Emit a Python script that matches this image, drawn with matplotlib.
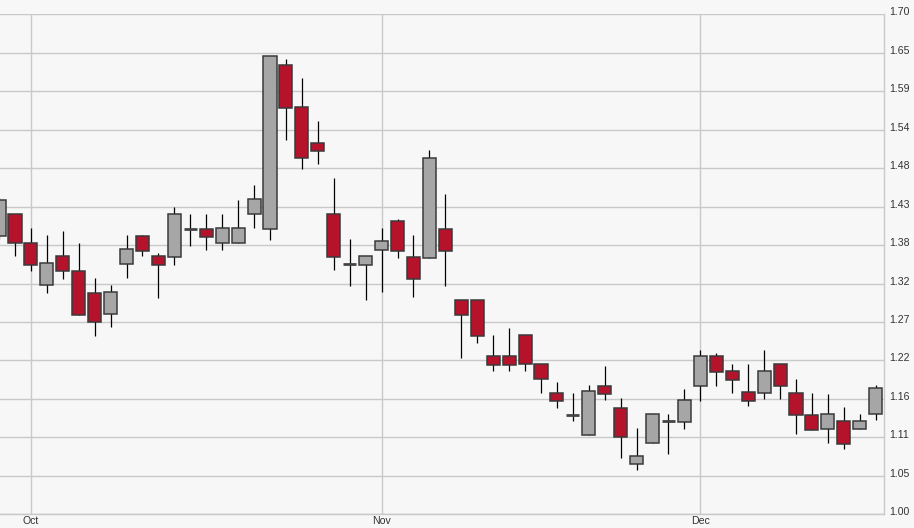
#!/usr/bin/env python3

import matplotlib
matplotlib.use("Agg")
import matplotlib.pyplot as plt
import matplotlib.transforms as mtransforms
import numpy as np


# daily OHLC, one entry per trading session (first two are late September)
OPEN = [
    1.390, 1.421, 1.380, 1.321, 1.361, 1.340, 1.310, 1.280, 1.350, 1.390,
    1.361, 1.360, 1.399, 1.399, 1.380, 1.380, 1.420, 1.399, 1.629, 1.570,
    1.520, 1.421, 1.351, 1.349, 1.370, 1.410, 1.360, 1.359, 1.400, 1.300,
    1.300, 1.221, 1.221, 1.251, 1.211, 1.170, 1.139, 1.111, 1.180, 1.149,
    1.070, 1.100, 1.130, 1.129, 1.180, 1.221, 1.200, 1.171, 1.170, 1.211,
    1.170, 1.139, 1.120, 1.130, 1.120, 1.141,
]
HIGH = [
    1.443, 1.421, 1.401, 1.391, 1.397, 1.380, 1.331, 1.321, 1.391, 1.391,
    1.366, 1.430, 1.420, 1.420, 1.420, 1.440, 1.461, 1.641, 1.638, 1.611,
    1.551, 1.471, 1.385, 1.361, 1.401, 1.414, 1.391, 1.510, 1.449, 1.300,
    1.300, 1.251, 1.261, 1.251, 1.211, 1.185, 1.170, 1.181, 1.208, 1.163,
    1.121, 1.141, 1.140, 1.175, 1.230, 1.226, 1.210, 1.210, 1.230, 1.211,
    1.190, 1.170, 1.168, 1.150, 1.140, 1.181,
]
LOW = [
    1.385, 1.361, 1.341, 1.310, 1.329, 1.279, 1.250, 1.262, 1.331, 1.361,
    1.303, 1.349, 1.375, 1.370, 1.370, 1.380, 1.401, 1.384, 1.524, 1.484,
    1.491, 1.342, 1.320, 1.300, 1.311, 1.359, 1.304, 1.359, 1.320, 1.219,
    1.240, 1.201, 1.201, 1.201, 1.170, 1.149, 1.130, 1.111, 1.160, 1.079,
    1.062, 1.100, 1.085, 1.120, 1.159, 1.180, 1.170, 1.151, 1.161, 1.161,
    1.112, 1.118, 1.100, 1.091, 1.120, 1.132,
]
CLOSE = [
    1.440, 1.380, 1.349, 1.352, 1.340, 1.279, 1.269, 1.311, 1.372, 1.369,
    1.349, 1.421, 1.399, 1.388, 1.401, 1.401, 1.442, 1.641, 1.569, 1.499,
    1.509, 1.360, 1.351, 1.361, 1.382, 1.369, 1.329, 1.499, 1.369, 1.279,
    1.250, 1.209, 1.209, 1.211, 1.189, 1.159, 1.139, 1.172, 1.168, 1.108,
    1.082, 1.141, 1.130, 1.160, 1.221, 1.199, 1.188, 1.159, 1.201, 1.180,
    1.139, 1.118, 1.141, 1.099, 1.131, 1.177,
]

MONTH_LABELS = ["Oct", "Nov", "Dec"]
MONTH_FIRST_SESSION = [2, 24, 44]  # position in the lists above

Y_TICKS = [1.00, 1.0538, 1.1077, 1.1615, 1.2154, 1.2692, 1.3231,
           1.3769, 1.4308, 1.4846, 1.5385, 1.5923, 1.6462, 1.70]
Y_TICK_LABELS = ["1.00", "1.05", "1.11", "1.16", "1.22", "1.27", "1.32",
                 "1.38", "1.43", "1.48", "1.54", "1.59", "1.65", "1.70"]

BG = "#f7f7f7"
GRID = "#c9c9c9"
UP_FILL = "#a6a6a6"
DOWN_FILL = "#b5132b"
EDGE = "#3a3a3a"


def main() -> None:
    fig = plt.figure(figsize=(9.14, 5.28), dpi=100, facecolor=BG)
    ax = fig.add_axes([0.0, 1 - 514.3 / 528, 884 / 914, 500 / 528])
    ax.set_facecolor(BG)

    o = np.array(OPEN)
    h = np.array(HIGH)
    l = np.array(LOW)
    c = np.array(CLOSE)
    x = np.arange(len(o)) - MONTH_FIRST_SESSION[0]

    # wicks
    ax.vlines(x, l, h, color="black", linewidth=0.9, zorder=2)

    flat = np.isclose(o, c, atol=0.0015)
    up = (c > o) & ~flat
    down = (c < o) & ~flat
    width = 0.82

    ax.bar(x[up], (c - o)[up], bottom=o[up], width=width,
           color=UP_FILL, edgecolor=EDGE, linewidth=1.1, zorder=3)
    ax.bar(x[down], (o - c)[down], bottom=c[down], width=width,
           color=DOWN_FILL, edgecolor=EDGE, linewidth=1.1, zorder=3)
    ax.hlines(o[flat], x[flat] - width / 2, x[flat] + width / 2,
              color="#444444", linewidth=2.0, zorder=3)

    ax.set_xlim(-1.94, 53.52)
    ax.set_ylim(1.0, 1.70)

    ax.set_xticks([s - MONTH_FIRST_SESSION[0] for s in MONTH_FIRST_SESSION])
    ax.set_xticklabels(MONTH_LABELS)
    ax.set_yticks(Y_TICKS)
    ax.set_yticklabels(Y_TICK_LABELS)
    ax.yaxis.tick_right()

    ax.tick_params(axis="both", length=0, labelsize=7.6, labelcolor="#333333")
    ax.tick_params(axis="x", pad=1)
    ax.tick_params(axis="y", pad=4)
    for lab in ax.get_xticklabels() + ax.get_yticklabels():
        lab.set_fontfamily(["Liberation Sans", "DejaVu Sans"])
    shift = mtransforms.ScaledTranslation(0, 3 / 100, fig.dpi_scale_trans)
    for lab in ax.get_yticklabels():
        lab.set_transform(lab.get_transform() + shift)

    ax.grid(True, color=GRID, linewidth=1.0, zorder=0)
    ax.set_axisbelow(True)

    for side in ("left", "top"):
        ax.spines[side].set_visible(False)
    for side in ("right", "bottom"):
        ax.spines[side].set_color(GRID)
        ax.spines[side].set_linewidth(1.0)

    fig.savefig("out.png", dpi=100, facecolor=BG)
    plt.close(fig)


if __name__ == "__main__":
    main()
